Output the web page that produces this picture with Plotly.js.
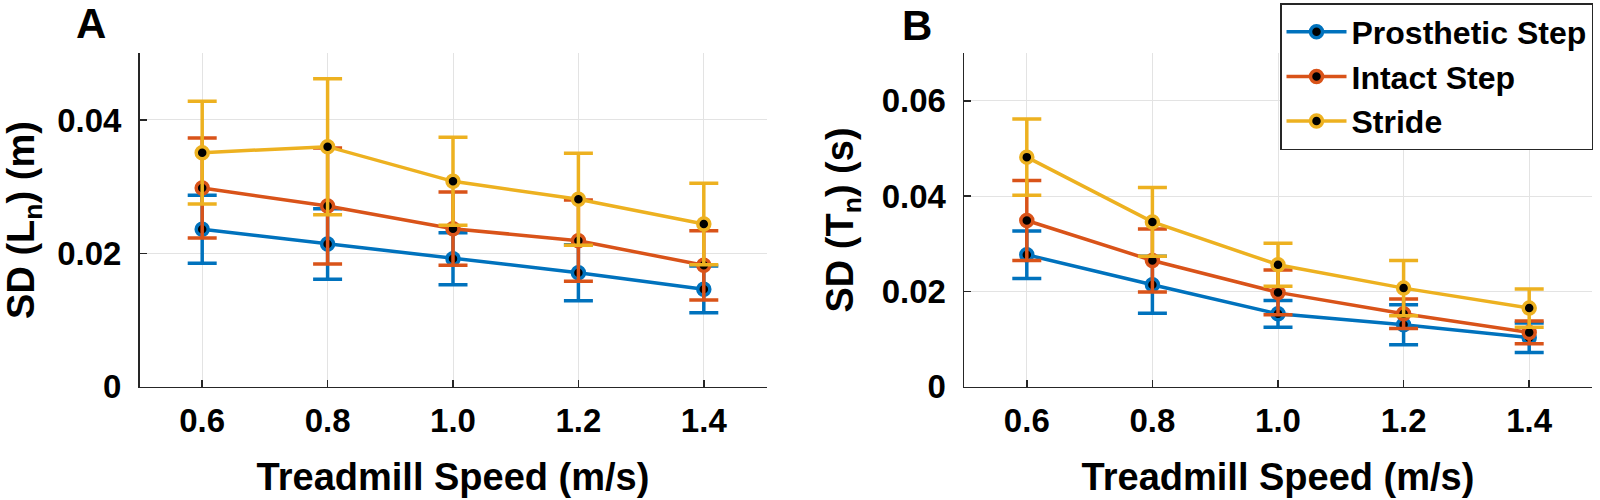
<!DOCTYPE html>
<html>
<head>
<meta charset="utf-8">
<script src="https://cdn.plot.ly/plotly-3.0.1.min.js"></script>
<style>html,body{margin:0;padding:0;background:#fff;}#chart{width:1600px;height:500px;}</style>
</head>
<body>
<div id="chart"></div>
<script>
// ---- data ----
const speeds = [0.6, 0.8, 1.0, 1.2, 1.4];
const speedLabels = ['0.6', '0.8', '1.0', '1.2', '1.4'];
const seriesNames = ['Prosthetic Step', 'Intact Step', 'Stride'];

// Panel A: SD(Ln) (m)
const lenProsthetic = [0.0236, 0.0214, 0.0192, 0.0171, 0.0146];
const lenProstheticErr = [0.0051, 0.0053, 0.0039, 0.0042, 0.0035];
const lenIntact = [0.0298, 0.0271, 0.0237, 0.0219, 0.0182];
const lenIntactErr = [0.0075, 0.0087, 0.0055, 0.0061, 0.0052];
const lenStride = [0.0351, 0.0360, 0.0308, 0.0281, 0.0244];
const lenStrideErr = [0.0077, 0.0102, 0.0066, 0.0069, 0.0061];

// Panel B: SD(Tn) (s)
const timeProsthetic = [0.0277, 0.0214, 0.0153, 0.0130, 0.0103];
const timeProstheticErr = [0.0050, 0.0060, 0.0028, 0.0042, 0.0031];
const timeIntact = [0.0349, 0.0265, 0.0198, 0.0153, 0.0114];
const timeIntactErr = [0.0084, 0.0066, 0.0047, 0.0031, 0.0024];
const timeStride = [0.0482, 0.0346, 0.0256, 0.0207, 0.0165];
const timeStrideErr = [0.0080, 0.0072, 0.0045, 0.0058, 0.0040];

const yTicksA = [0, 0.02, 0.04];
const yTickTextA = ['0', '0.02', '0.04'];
const yTicksB = [0, 0.02, 0.04, 0.06];
const yTickTextB = ['0', '0.02', '0.04', '0.06'];

// ---- styling ----
const colors = ['#0072BD', '#D95319', '#EDB120'];
const FONT = 'Liberation Sans, Arial, Helvetica, sans-serif';
const LW = 3.5;

function makeTrace(y, err, idx, xa, ya, showLegend) {
  return {
    type: 'scatter', mode: 'lines+markers',
    x: speeds, y: y, xaxis: xa, yaxis: ya,
    name: seriesNames[idx], showlegend: showLegend,
    line: {color: colors[idx], width: LW},
    marker: {symbol: 'circle', size: 12, color: '#000', line: {color: colors[idx], width: LW}},
    error_y: {type: 'data', array: err, symmetric: true, color: colors[idx], thickness: LW, width: 14.5}
  };
}

const traces = [
  makeTrace(lenProsthetic, lenProstheticErr, 0, 'x', 'y', false),
  makeTrace(lenIntact, lenIntactErr, 1, 'x', 'y', false),
  makeTrace(lenStride, lenStrideErr, 2, 'x', 'y', false),
  makeTrace(timeProsthetic, timeProstheticErr, 0, 'x2', 'y2', true),
  makeTrace(timeIntact, timeIntactErr, 1, 'x2', 'y2', true),
  makeTrace(timeStride, timeStrideErr, 2, 'x2', 'y2', true)
];

const W = 1600, H = 500;
const px = v => v / W;
const py = v => 1 - v / H;

function xAxis(domain, anchor) {
  return {
    domain: domain, anchor: anchor, range: [0.5, 1.5],
    tickvals: speeds, ticktext: speedLabels,
    ticks: 'inside', ticklen: 7, tickwidth: 1.5, tickcolor: '#262626',
    showline: true, linecolor: '#262626', linewidth: 1.5,
    showgrid: true, gridcolor: '#e3e3e3', gridwidth: 1, zeroline: false,
    tickfont: {family: FONT, size: 33, color: '#000', weight: 700},
    ticklabelstandoff: 4,
    title: {text: 'Treadmill Speed (m/s)', standoff: 25, font: {family: FONT, size: 38, color: '#000', weight: 700}},
    automargin: false, fixedrange: true
  };
}
function yAxis(domain, anchor, range, tv, tt, title) {
  return {
    domain: domain, anchor: anchor, range: range,
    tickvals: tv, ticktext: tt,
    ticks: 'inside', ticklen: 7, tickwidth: 1.5, tickcolor: '#262626',
    showline: true, linecolor: '#262626', linewidth: 1.5,
    showgrid: true, gridcolor: '#e3e3e3', gridwidth: 1, zeroline: false,
    tickfont: {family: FONT, size: 33, color: '#000', weight: 700},
    ticklabelstandoff: 10,
    title: {text: title, standoff: 16, font: {family: FONT, size: 38, color: '#000', weight: 700}},
    automargin: false, fixedrange: true
  };
}

const yDom = [py(386.7), py(53.3)];
const layout = {
  width: W, height: H,
  margin: {l: 0, r: 0, t: 0, b: 0, pad: 0},
  paper_bgcolor: '#fff', plot_bgcolor: '#fff',
  font: {family: FONT, color: '#000'},
  xaxis: xAxis([px(139.5), px(766.5)], 'y'),
  yaxis: yAxis(yDom, 'x', [0, 0.05], yTicksA, yTickTextA, 'SD (L<sub>n</sub>) (m)'),
  xaxis2: xAxis([px(964), px(1592)], 'y2'),
  yaxis2: yAxis(yDom, 'x2', [0, 0.07], yTicksB, yTickTextB, 'SD (T<sub>n</sub>) (s)'),
  legend: {
    x: px(1593), xanchor: 'right', y: py(3), yanchor: 'top',
    bgcolor: '#fff', bordercolor: '#262626', borderwidth: 1.5,
    font: {family: FONT, size: 32, color: '#000', weight: 700},
    itemwidth: 60, tracegroupgap: 0
  },
  annotations: [
    {text: 'A', x: px(91), y: py(23), xref: 'paper', yref: 'paper', xanchor: 'center', yanchor: 'middle', showarrow: false,
     font: {family: FONT, size: 42, color: '#000', weight: 700}},
    {text: 'B', x: px(917), y: py(25), xref: 'paper', yref: 'paper', xanchor: 'center', yanchor: 'middle', showarrow: false,
     font: {family: FONT, size: 42, color: '#000', weight: 700}}
  ],
  showlegend: true
};

Plotly.newPlot('chart', traces, layout, {staticPlot: true, displayModeBar: false});
</script>
</body>
</html>
